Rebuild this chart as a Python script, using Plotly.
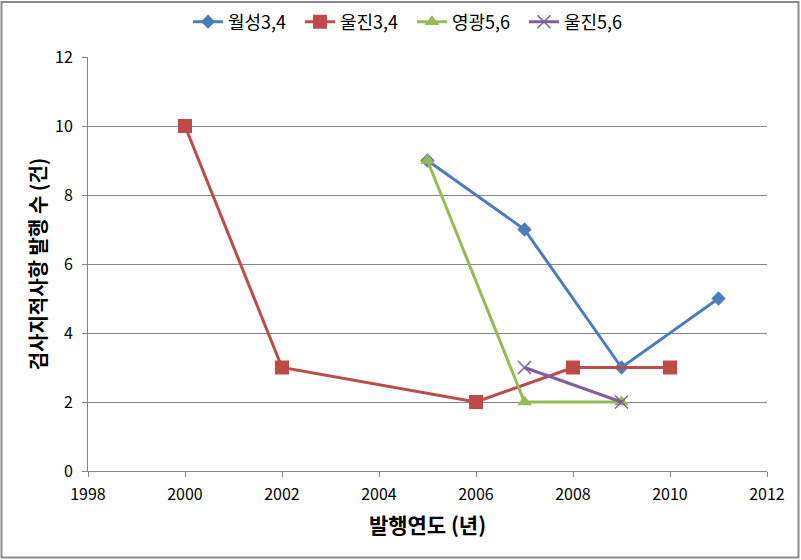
import plotly.graph_objects as go

# Data
years_wolsong34 = [2005, 2007, 2009, 2011]
vals_wolsong34 = [9, 7, 3, 5]
years_uljin34 = [2000, 2002, 2006, 2008, 2010]
vals_uljin34 = [10, 3, 2, 3, 3]
years_yg56 = [2005, 2007, 2009]
vals_yg56 = [9, 2, 2]
years_uljin56 = [2007, 2009]
vals_uljin56 = [3, 2]

names = ["월성3,4", "울진3,4", "영광5,6", "울진5,6"]
colors = ["#4A7EBB", "#BE4B48", "#98B954", "#7D5FA0"]
symbols = ["diamond", "square", "triangle-up", "x-thin-open"]
sizes = [11, 14, 13, 13]
xs = [years_wolsong34, years_uljin34, years_yg56, years_uljin56]
ys = [vals_wolsong34, vals_uljin34, vals_yg56, vals_uljin56]

FONT = "Noto Sans CJK KR"
fig = go.Figure()
for n, c, s, sz, x, y in zip(names, colors, symbols, sizes, xs, ys):
    marker = dict(symbol=s, size=sz, color=c)
    if s == "x-thin-open":
        marker["line"] = dict(color="#8C7FA8", width=1.5)
    fig.add_trace(go.Scatter(x=x, y=y, name=n, mode="lines+markers",
                             line=dict(color=c, width=3), marker=marker))

W, H = 801, 560
L, R, T, B = 88, 34, 57, 89
pw, ph = W - L - R, H - T - B

def px_x(p):
    return (p - L) / pw

def px_y(p):
    return (H - B - p) / ph

fig.update_layout(
    width=W, height=H,
    margin=dict(l=L, r=R, t=T, b=B, autoexpand=False),
    paper_bgcolor="white", plot_bgcolor="white",
    font=dict(family=FONT, size=16, color="#000000"),
    showlegend=True,
    legend=dict(orientation="h", x=px_x(188), xanchor="left", y=px_y(22), yanchor="middle",
                font=dict(family=FONT, size=18), itemwidth=30,
                entrywidth=67, entrywidthmode="pixels"),
    xaxis=dict(range=[1998, 2012], dtick=2, tick0=1998, showgrid=False,
               showline=True, linecolor="#868686", linewidth=1,
               ticks="outside", ticklen=5, tickcolor="#868686",
               tickfont=dict(family=FONT, size=16), ticklabelstandoff=4,
               title=dict(text="<b>발행연도 (년)</b>", font=dict(family=FONT, size=21), standoff=14),
               zeroline=False),
    yaxis=dict(range=[0, 12], dtick=2, showgrid=True, gridcolor="#868686", gridwidth=1,
               showline=True, linecolor="#868686", linewidth=1,
               ticks="outside", ticklen=5, tickcolor="#868686",
               tickfont=dict(family=FONT, size=16), ticklabelstandoff=6,
               title=dict(text="<b>검사지적사항 발행 수 (건)</b>", font=dict(family=FONT, size=20), standoff=3),
               zeroline=False),
    shapes=[dict(type="rect", xref="paper", yref="paper",
                 x0=px_x(1.5), x1=px_x(798.5), y0=px_y(557.5), y1=px_y(2),
                 line=dict(color="#8A8A8A", width=2), fillcolor="rgba(0,0,0,0)", layer="below")],
)

fig.write_html("out.html")
